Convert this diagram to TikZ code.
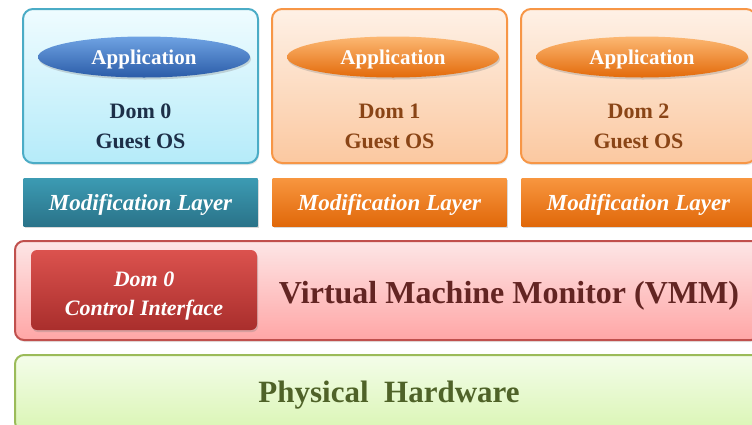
\documentclass[tikz,border=0pt]{standalone}
\usepackage{fontspec}
\setmainfont{Liberation Serif}
\usetikzlibrary{positioning}
\usetikzlibrary{shapes.geometric, shadows}

\definecolor{bluedraw}{HTML}{4BACC6}
\definecolor{bluetop}{HTML}{EFFCFF}
\definecolor{bluebot}{HTML}{B5EBF9}
\definecolor{blueapptop}{HTML}{6FA3E3}
\definecolor{blueappbot}{HTML}{2B5CA8}
\definecolor{bluetext}{HTML}{1D2F48}
\definecolor{bluemodtop}{HTML}{3C9BB3}
\definecolor{bluemodbot}{HTML}{2A7389}
\definecolor{orangedraw}{HTML}{F79646}
\definecolor{orangetop}{HTML}{FEF1E6}
\definecolor{orangebot}{HTML}{FBC8A0}
\definecolor{orangeapptop}{HTML}{FCB873}
\definecolor{orangeappbot}{HTML}{E36A0A}
\definecolor{orangetext}{HTML}{8A4516}
\definecolor{orangemodtop}{HTML}{F8963F}
\definecolor{orangemodbot}{HTML}{E0680A}
\definecolor{vmmdraw}{HTML}{C0504D}
\definecolor{vmmtop}{HTML}{FDE6E6}
\definecolor{vmmbot}{HTML}{FFA6A6}
\definecolor{vmmtext}{HTML}{632523}
\definecolor{ctrltop}{HTML}{DB524E}
\definecolor{ctrlbot}{HTML}{A92E2C}
\definecolor{hwdraw}{HTML}{9BBB59}
\definecolor{hwtop}{HTML}{F4FDEA}
\definecolor{hwbot}{HTML}{DAF5B4}
\definecolor{hwtext}{HTML}{4F6228}

\begin{document}
\begin{tikzpicture}[
    x=1pt, y=-1pt,
    dombox/.style={rectangle, rounded corners=10pt, line width=2pt, minimum width=235pt, minimum height=154pt, inner sep=0pt, drop shadow={opacity=0.2, shadow xshift=1pt, shadow yshift=-2pt}},
    app/.style={ellipse, minimum width=212pt, minimum height=41pt, inner sep=0pt, drop shadow={opacity=0.3, shadow xshift=1pt, shadow yshift=-2pt}},
    apptxt/.style={text=white, font=\fontsize{21}{24}\selectfont\bfseries},
    domtxt/.style={align=center, font=\fontsize{22}{30}\selectfont\bfseries},
    modbox/.style={rectangle, minimum width=234pt, minimum height=48pt, inner sep=0pt, drop shadow={opacity=0.3, shadow xshift=1pt, shadow yshift=-2pt}},
    modtxt/.style={text=white, font=\fontsize{23}{26}\selectfont\bfseries\itshape},
    blue dom/.style={draw=bluedraw, top color=bluetop, bottom color=bluebot},
    blue app/.style={top color=blueapptop, bottom color=blueappbot},
    blue txt/.style={text=bluetext},
    blue mod/.style={top color=bluemodtop, bottom color=bluemodbot},
    orange dom/.style={draw=orangedraw, top color=orangetop, bottom color=orangebot},
    orange app/.style={top color=orangeapptop, bottom color=orangeappbot},
    orange txt/.style={text=orangetext},
    orange mod/.style={top color=orangemodtop, bottom color=orangemodbot},
    wide/.style={rectangle, rounded corners=9pt, line width=2pt, minimum width=745pt, inner sep=0pt}
]

\useasboundingbox (0,0) rectangle (752,424);
\clip (0,0) rectangle (752,424);

% --- Guest domains with application and modification layer ---
\foreach \i/\x/\kind in {0/140.5/blue, 1/389.5/orange, 2/638.5/orange}
{
    \node[dombox, \kind\space dom] (dom\i) at (\x,86) {};
    \node[app, \kind\space app] (app\i) at ({\x+3.5},57) {};
    \node[apptxt] (appl\i) at ({\x+3.5},59) {Application};
    \node[domtxt, \kind\space txt] (txt\i) at (\x,126) {Dom \i\\Guest OS};
    \node[modbox, \kind\space mod] (mod\i) at (\x,202) {};
    \node[modtxt] (modl\i) at (\x,205) {Modification Layer};
}

% --- Virtual machine monitor ---
\node[wide, draw=vmmdraw, top color=vmmtop, bottom color=vmmbot, minimum height=99pt,
      drop shadow={opacity=0.2, shadow xshift=1pt, shadow yshift=-2pt}] (vmm) at (387.5,290.5) {};
\node[rectangle, rounded corners=6pt, minimum width=226pt, minimum height=80pt, inner sep=0pt,
      top color=ctrltop, bottom color=ctrlbot,
      drop shadow={opacity=0.3, shadow xshift=1pt, shadow yshift=-2pt}] (ctrl) at (144,290) {};
\node[text=white, align=center, font=\fontsize{22}{29}\selectfont\bfseries\itshape] (ctrltxt) at (144,296) {Dom 0\\Control Interface};
\node[text=vmmtext, font=\fontsize{32}{36}\selectfont\bfseries] (vmmtxt) at (509,296) {Virtual Machine Monitor (VMM)};

% --- Physical hardware ---
\node[wide, draw=hwdraw, top color=hwtop, bottom color=hwbot, minimum height=76pt] (hw) at (387.5,393) {};
\node[text=hwtext, font=\fontsize{31}{34}\selectfont\bfseries] (hwtxt) at (389,395) {Physical\ \ Hardware};

\end{tikzpicture}
\end{document}
